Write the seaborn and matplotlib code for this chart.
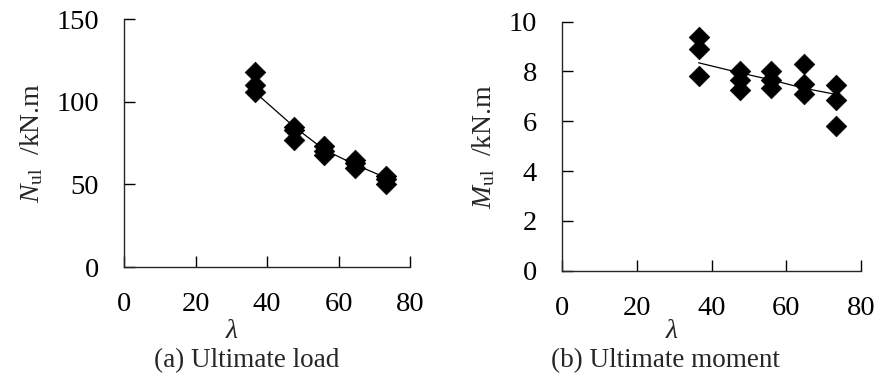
import pandas as pd
import matplotlib
matplotlib.use('Agg')
import matplotlib.pyplot as plt
import seaborn as sns

# slenderness ratios of the test groups
LAMBDA_GROUPS = [36.5, 47.5, 56.0, 64.6, 73.3]

# (a) ultimate load, three specimens per group
lam_load = [36.5, 36.5, 36.5, 47.5, 47.5, 47.5, 56.0, 56.0, 56.0,
            64.6, 64.6, 64.6, 73.3, 73.3, 73.3]
n_ul = [118, 110, 106, 85, 83, 77, 73, 70, 68, 65, 63, 60, 55, 53, 50]
n_trend = [106, 85, 71, 62, 54]

# (b) ultimate moment
lam_moment = [36.5, 36.5, 36.5, 47.5, 47.5, 47.5, 56.0, 56.0, 56.0,
              64.6, 64.6, 64.6, 73.3, 73.3, 73.3]
m_ul = [9.4, 8.9, 7.8, 8.0, 7.65, 7.25, 8.0, 7.65, 7.35,
        8.3, 7.5, 7.1, 7.45, 6.85, 5.8]
m_trend = [8.35, 7.95, 7.66, 7.33, 7.08]

TICK_SIZE = 20.5
LABEL_SIZE = 20
CAPTION_SIZE = 19.5

sns.set_style('ticks')
plt.rcParams['font.family'] = ['Liberation Serif', 'DejaVu Serif']
plt.rcParams['mathtext.fontset'] = 'custom'
plt.rcParams['mathtext.rm'] = 'Liberation Serif'
plt.rcParams['mathtext.it'] = 'Liberation Serif:italic'
plt.rcParams['axes.linewidth'] = 1.0


def panel(ax, lam, vals, trend, ylim, ystep, ylabel, xlab_pos):
    pts = pd.DataFrame({'lam': lam, 'val': vals})
    fit = pd.DataFrame({'lam': LAMBDA_GROUPS, 'val': trend})
    sns.lineplot(data=fit, x='lam', y='val', ax=ax, color='black', lw=0.9)
    sns.scatterplot(data=pts, x='lam', y='val', ax=ax, marker='D', s=110,
                    color='black', edgecolor='black', linewidth=0.5, zorder=3)
    ax.set_xlim(0, 80)
    ax.set_ylim(0, ylim)
    ax.set_xticks(range(0, 81, 20))
    ax.set_yticks([i * ystep for i in range(int(round(ylim / ystep)) + 1)])
    ax.tick_params(direction='in', length=8, width=1.0, pad=18,
                   labelsize=TICK_SIZE, colors='black')
    sns.despine(ax=ax)
    ax.set_xlabel('λ', fontsize=LABEL_SIZE, fontstyle='italic')
    ax.xaxis.set_label_coords(*xlab_pos)
    ax.set_ylabel(ylabel, fontsize=LABEL_SIZE, labelpad=8)


fig = plt.figure(figsize=(8.76, 3.91), dpi=100)
ax_a = fig.add_axes([0.1416, 0.317, 0.3265, 0.634])
ax_b = fig.add_axes([0.6416, 0.3077, 0.3415, 0.6368])

panel(ax_a, lam_load, n_ul, n_trend, 150, 50, r'$N_{\mathrm{ul}}$  /kN.m', (0.378, -0.21))
panel(ax_b, lam_moment, m_ul, m_trend, 10, 2, r'$M_{\mathrm{ul}}$  /kN.m', (0.365, -0.194))

fig.text(0.282, 0.078, '(a) Ultimate load', ha='center', va='center', fontsize=CAPTION_SIZE)
fig.text(0.760, 0.078, '(b) Ultimate moment', ha='center', va='center', fontsize=CAPTION_SIZE)

fig.savefig('out.png', dpi=100)
